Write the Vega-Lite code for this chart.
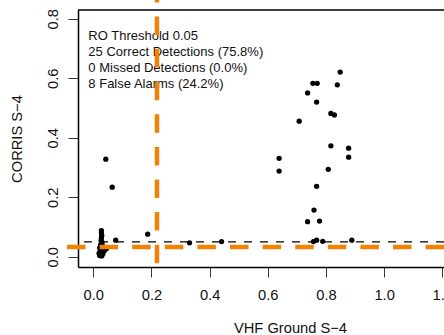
{
  "$schema": "https://vega.github.io/schema/vega-lite/v6.json",
  "width": 366,
  "height": 257,
  "autosize": {"type": "none"},
  "padding": {"left": 78, "top": 10, "right": 0, "bottom": 68},
  "background": "white",
  "config": {
    "view": {"stroke": null},
    "font": "Liberation Sans",
    "axis": {
      "grid": false,
      "domainColor": "black",
      "domainWidth": 1.5,
      "tickColor": "#333333",
      "tickWidth": 1,
      "tickSize": 10,
      "labelFont": "Liberation Sans",
      "labelFontSize": 14.7,
      "labelColor": "#111111",
      "titleFont": "Liberation Sans",
      "titleFontSize": 14.7,
      "titleFontWeight": "normal",
      "titleColor": "#111111"
    }
  },
  "layer": [
    {
      "data": {
        "values": [
          {"vhf": 0.849, "corris": 0.621},
          {"vhf": 0.755, "corris": 0.583},
          {"vhf": 0.770, "corris": 0.583},
          {"vhf": 0.839, "corris": 0.578},
          {"vhf": 0.737, "corris": 0.551},
          {"vhf": 0.768, "corris": 0.520},
          {"vhf": 0.817, "corris": 0.482},
          {"vhf": 0.829, "corris": 0.477},
          {"vhf": 0.708, "corris": 0.456},
          {"vhf": 0.817, "corris": 0.373},
          {"vhf": 0.878, "corris": 0.365},
          {"vhf": 0.878, "corris": 0.335},
          {"vhf": 0.639, "corris": 0.331},
          {"vhf": 0.639, "corris": 0.288},
          {"vhf": 0.808, "corris": 0.294},
          {"vhf": 0.768, "corris": 0.237},
          {"vhf": 0.759, "corris": 0.157},
          {"vhf": 0.737, "corris": 0.118},
          {"vhf": 0.778, "corris": 0.120},
          {"vhf": 0.757, "corris": 0.051},
          {"vhf": 0.768, "corris": 0.056},
          {"vhf": 0.789, "corris": 0.052},
          {"vhf": 0.889, "corris": 0.056},
          {"vhf": 0.077, "corris": 0.056},
          {"vhf": 0.187, "corris": 0.076},
          {"vhf": 0.331, "corris": 0.047},
          {"vhf": 0.441, "corris": 0.051},
          {"vhf": 0.043, "corris": 0.328},
          {"vhf": 0.065, "corris": 0.234},
          {"vhf": 0.028, "corris": 0.088},
          {"vhf": 0.028, "corris": 0.080},
          {"vhf": 0.029, "corris": 0.072},
          {"vhf": 0.028, "corris": 0.064},
          {"vhf": 0.027, "corris": 0.055},
          {"vhf": 0.030, "corris": 0.048},
          {"vhf": 0.025, "corris": 0.040},
          {"vhf": 0.032, "corris": 0.036},
          {"vhf": 0.022, "corris": 0.030},
          {"vhf": 0.035, "corris": 0.028},
          {"vhf": 0.024, "corris": 0.022},
          {"vhf": 0.030, "corris": 0.018},
          {"vhf": 0.038, "corris": 0.020},
          {"vhf": 0.020, "corris": 0.012},
          {"vhf": 0.026, "corris": 0.008},
          {"vhf": 0.033, "corris": 0.010},
          {"vhf": 0.022, "corris": 0.004},
          {"vhf": 0.029, "corris": 0.003},
          {"vhf": 0.040, "corris": 0.030},
          {"vhf": 0.045, "corris": 0.027}
        ]
      },
      "mark": {"type": "circle", "size": 28, "opacity": 1, "color": "black"},
      "encoding": {
        "x": {
          "field": "vhf", "type": "quantitative",
          "scale": {"domain": [-0.0526, 1.206], "nice": false, "zero": false},
          "axis": {
            "title": "VHF Ground S−4",
            "values": [0, 0.2, 0.4, 0.6, 0.8, 1.0, 1.2],
            "format": ".1f",
            "labelPadding": 10,
            "labelBaseline": "top",
            "labelFlush": false,
            "labelOverlap": false,
            "titleX": 212,
            "titleY": 61,
            "titleBaseline": "middle",
            "titleAlign": "center"
          }
        },
        "y": {
          "field": "corris", "type": "quantitative",
          "scale": {"domain": [-0.0343, 0.8296], "nice": false, "zero": false},
          "axis": {
            "title": "CORRIS S−4",
            "values": [0, 0.2, 0.4, 0.6, 0.8],
            "format": ".1f",
            "labelAngle": 270,
            "labelAlign": "center",
            "labelBaseline": "alphabetic",
            "labelPadding": 11,
            "labelFlush": false,
            "labelOverlap": false,
            "titleAngle": 270,
            "titleX": -61,
            "titleY": 128.5,
            "titleBaseline": "middle",
            "titleAlign": "center"
          }
        }
      }
    },
    {
      "data": {"values": [{"top": 0.8296}]},
      "mark": {"type": "rule", "color": "black", "strokeWidth": 1.5},
      "encoding": {"y": {"field": "top", "type": "quantitative"}}
    },
    {
      "data": {"values": [{"ro_threshold": 0.05}]},
      "mark": {"type": "rule", "color": "black", "strokeWidth": 1.4, "strokeDash": [8, 8]},
      "encoding": {"y": {"field": "ro_threshold", "type": "quantitative"}}
    },
    {
      "data": {"values": [{"x": -0.017, "y": 0.730}]},
      "mark": {
        "type": "text",
        "align": "left",
        "baseline": "alphabetic",
        "fontSize": 13,
        "lineHeight": 16,
        "font": "Liberation Sans",
        "fill": "#111111"
      },
      "encoding": {
        "x": {"field": "x", "type": "quantitative"},
        "y": {"field": "y", "type": "quantitative"},
        "text": {"value": ["RO Threshold 0.05", "25 Correct Detections (75.8%)", "0 Missed Detections (0.0%)", "8 False Alarms (24.2%)"]}
      }
    },
    {
      "data": {"values": [{"x": -0.0904, "x2": 1.3, "y": 0.033}]},
      "mark": {"type": "rule", "color": "#F28205", "strokeWidth": 4.5, "strokeDash": [18.5, 14.1], "strokeCap": "butt"},
      "encoding": {
        "x": {"field": "x", "type": "quantitative"},
        "x2": {"field": "x2"},
        "y": {"field": "y", "type": "quantitative"}
      }
    },
    {
      "data": {"values": [{"x": 0.219, "y": -0.0215, "y2": 0.9}]},
      "mark": {"type": "rule", "color": "#F28205", "strokeWidth": 4.5, "strokeDash": [18.5, 14.1], "strokeCap": "butt"},
      "encoding": {
        "x": {"field": "x", "type": "quantitative"},
        "y": {"field": "y", "type": "quantitative"},
        "y2": {"field": "y2"}
      }
    }
  ]
}
